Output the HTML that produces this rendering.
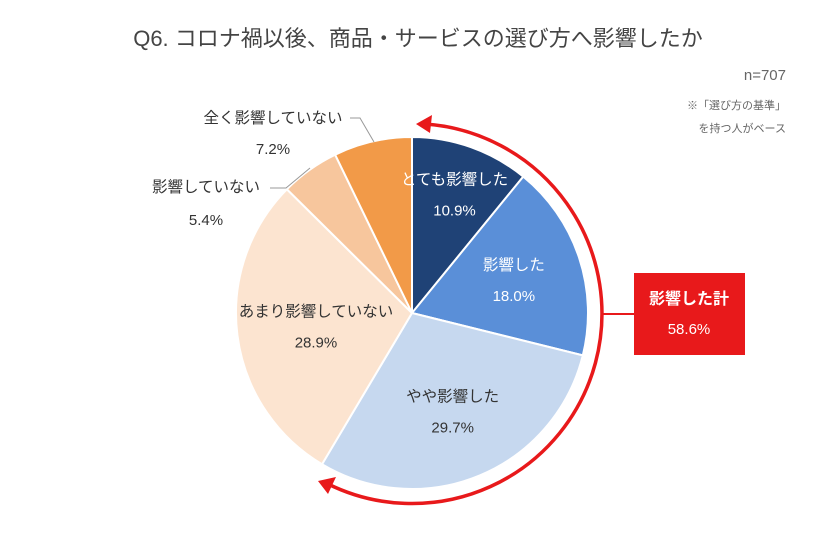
<!DOCTYPE html>
<html><head><meta charset="utf-8">
<style>
body{margin:0;background:#fff;}
svg text{font-family:"Liberation Sans","Noto Sans CJK JP",sans-serif;}
</style></head>
<body>
<svg id="chart" width="822" height="532" viewBox="0 0 822 532">
<text x="418" y="46" text-anchor="middle" font-size="22" fill="#444">Q6. コロナ禍以後、商品・サービスの選び方へ影響したか</text>
<text x="786" y="80" text-anchor="end" font-size="15" fill="#666">n=707</text>
<text x="786" y="109" text-anchor="end" font-size="11" fill="#666">※「選び方の基準」</text>
<text x="786" y="132" text-anchor="end" font-size="11" fill="#666">を持つ人がベース</text>
<g id="slices"></g>
<g id="labels"></g>
<g>
<path d="M 425 124 A 190 190 0 1 1 328 484" fill="none" stroke="#e8191b" stroke-width="3.5"/>
<polygon points="416,124 432,115 430,133" fill="#e8191b"/>
<polygon points="318,481 336,477 328,494" fill="#e8191b"/>
<line x1="601" y1="314" x2="634" y2="314" stroke="#e8191b" stroke-width="2"/>
</g>
<rect x="634" y="273" width="111" height="82" fill="#e8191b"/>
<text x="689" y="304" text-anchor="middle" font-size="16" font-weight="bold" fill="#fff">影響した計</text>
<text x="689" y="334" text-anchor="middle" font-size="15" fill="#fff">58.6%</text>
<g stroke="#999" fill="none" stroke-width="1">
<polyline points="350,118 360,118 374,142"/>
<polyline points="270,188 286,188 310,168"/>
</g>
</svg>
<script>
const categories=["とても影響した","影響した","やや影響した","あまり影響していない","影響していない","全く影響していない"];
const values=[10.9,18.0,29.7,28.9,5.4,7.2];
const valueLabels=["10.9%","18.0%","29.7%","28.9%","5.4%","7.2%"];
const colors=["#1f4276","#5a8fd8","#c6d8ef","#fce4d0","#f7c69d","#f29a48"];
const textColors=["#fff","#fff","#333","#333","#333","#333"];
const cx=412,cy=313,r=176;
const ns="http://www.w3.org/2000/svg";
const total=values.reduce((a,b)=>a+b,0);
function pt(a,rr){return [cx+rr*Math.sin(a),cy-rr*Math.cos(a)];}
const gS=document.getElementById('slices'),gL=document.getElementById('labels');
let acc=0;
const labelR=[0.72,0.61,0.6,0.55,0,0];
const outside={4:[206,186,219],5:[273,117,148]};
values.forEach((v,i)=>{
 const a0=acc/total*2*Math.PI;acc+=v;const a1=acc/total*2*Math.PI;
 const p0=pt(a0,r),p1=pt(a1,r);
 const p=document.createElementNS(ns,'path');
 p.setAttribute('d',`M${cx},${cy} L${p0[0]},${p0[1]} A${r},${r} 0 ${a1-a0>Math.PI?1:0} 1 ${p1[0]},${p1[1]} Z`);
 p.setAttribute('fill',colors[i]);p.setAttribute('stroke','#fff');p.setAttribute('stroke-width','2');
 
 
 gS.appendChild(p);
 let x,y1,y2;
 if(outside[i]){x=outside[i][0];y1=outside[i][1]+6;y2=outside[i][2]+6;}
 else{const m=pt((a0+a1)/2,r*labelR[i]);x=m[0];y1=m[1]-9;y2=m[1]+22;}
 const t1=document.createElementNS(ns,'text');
 t1.setAttribute('x',x);t1.setAttribute('y',y1);t1.setAttribute('text-anchor','middle');
 t1.setAttribute('font-size','15.5');t1.setAttribute('fill',textColors[i]);
 t1.textContent=categories[i];
 
 
 gL.appendChild(t1);
 const t2=document.createElementNS(ns,'text');
 t2.setAttribute('x',x);t2.setAttribute('y',y2);t2.setAttribute('text-anchor','middle');
 t2.setAttribute('font-size','15');t2.setAttribute('fill',textColors[i]);
 t2.textContent=valueLabels[i];
 
 
 gL.appendChild(t2);
});
</script>
</body></html>
